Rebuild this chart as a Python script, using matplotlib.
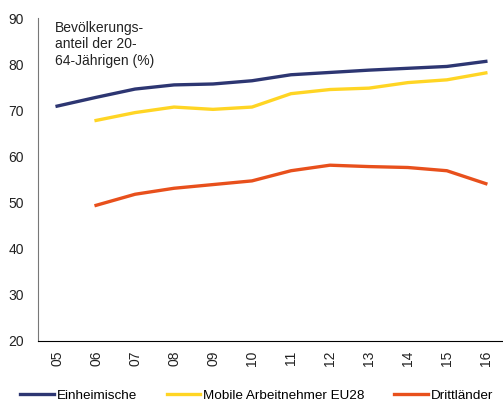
import matplotlib.pyplot as plt
import numpy as np

plt.rcParams['font.family'] = ['Liberation Sans', 'DejaVu Sans']

years = ['05', '06', '07', '08', '09', '10', '11', '12', '13', '14', '15', '16']
einheimische = [70.9, 72.8, 74.6, 75.5, 75.7, 76.4, 77.7, 78.2, 78.7, 79.1, 79.5, 80.6]
mobile_eu28 = [np.nan, 67.8, 69.5, 70.7, 70.2, 70.7, 73.6, 74.5, 74.8, 76.0, 76.6, 78.1]
drittlaender = [np.nan, 49.4, 51.8, 53.1, 53.9, 54.7, 56.9, 58.1, 57.8, 57.6, 56.9, 54.1]

fig = plt.figure(figsize=(5.03, 4.01), dpi=100)
ax = fig.add_axes([38/503, 1 - 341/401, 1 - 38/503, (341 - 18)/401])

x = np.arange(len(years))
ax.plot(x, einheimische, color='#2d3672', lw=2.4, label='Einheimische')
ax.plot(x, mobile_eu28, color='#ffd524', lw=2.4, label='Mobile Arbeitnehmer EU28')
ax.plot(x, drittlaender, color='#e8501c', lw=2.4, label='Drittländer')

ax.set_ylim(20, 90)
ax.set_xlim(-0.49, 11.44)
ax.set_yticks(range(20, 91, 10))
ax.set_xticks(x)
ax.set_xticklabels(years, rotation=90)
ax.tick_params(axis='y', length=0, pad=10, labelsize=10, colors='#222222')
ax.tick_params(axis='x', length=0, pad=7, labelsize=10, colors='#222222')

for s in ['top', 'right']:
    ax.spines[s].set_visible(False)
ax.spines['left'].set_color('#777777')
ax.spines['bottom'].set_color('black')

ax.text(17/465, 0.99, 'Bevölkerungs-\nanteil der 20-\n64-Jährigen (%)',
        transform=ax.transAxes, va='top', ha='left', fontsize=10, color='#222222',
        linespacing=1.2)

fig.legend(loc='lower left', bbox_to_anchor=(0.022, -0.025), ncol=3, frameon=False,
           fontsize=9.7, handlelength=2.5, handletextpad=0.2, columnspacing=2.2,
           borderaxespad=0.3)

fig.savefig('out.png', dpi=100)
